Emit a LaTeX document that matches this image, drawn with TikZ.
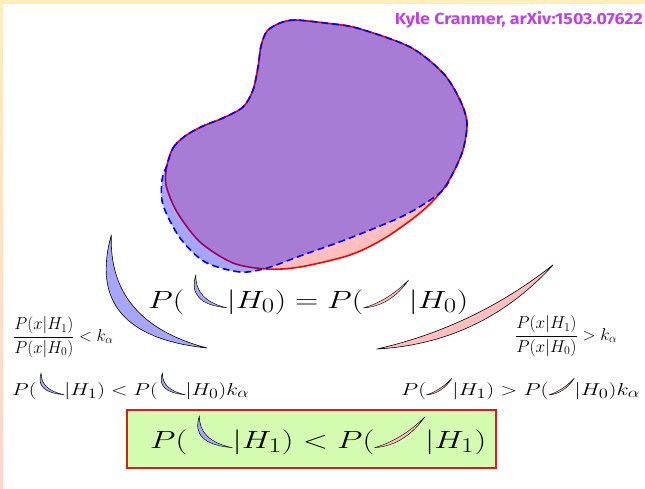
\documentclass[tikz,border=0pt]{standalone}
\usepackage{fontspec}
\usepackage{graphicx}
\newfontfamily\titlefont{Fira Sans}
\definecolor{titlepurple}{RGB}{190,66,232}
\definecolor{boxgreen}{RGB}{212,252,176}
\definecolor{boxred}{RGB}{225,25,25}
\definecolor{bandcream}{RGB}{255,238,184}
\definecolor{bandpink}{RGB}{255,212,208}
\tikzset{
  bluelunestyle/.style={draw=black, fill=blue!35, line width=0.4pt, line join=round},
  pinklunestyle/.style={draw=black, fill=red!25, line width=0.4pt, line join=round},
  formula/.style={inner sep=0pt, anchor=base west},
}
% inline crescents: #1 width, #2 height (pt), #3 baseline as fraction of height from bottom
\newcommand{\bluelune}[3]{\tikz[x=#1pt,y=#2pt,baseline={(0,#3)}]{\draw[bluelunestyle] (0.08,1) .. controls (-0.10,0.41) and (0.207,0.077) .. (1,0) .. controls (0.367,0.153) and (0.06,0.487) .. cycle;}}
\newcommand{\pinklune}[3]{\tikz[x=#1pt,y=#2pt,baseline={(0,#3)}]{\draw[pinklunestyle] (1,1) .. controls (0.731,0.381) and (0.398,0.047) .. (0,0) .. controls (0.367,0.175) and (0.701,0.508) .. cycle;}}
\begin{document}
\begin{tikzpicture}[x=1pt,y=-1pt]
\fill[white] (0,0) rectangle (645,488);
\fill[bandcream] (0,0) rectangle (645,3.5);
\shade[top color=bandcream, bottom color=bandpink] (0,0) rectangle (3,488);

% blob: H1 (red, solid) and H0 (blue, dashed)
\path[fill=red, fill opacity=0.25] plot[smooth cycle] coordinates {(167,165) (173,148) (185,136) (203,126) (223,118) (243,107) (253,90) (258,67) (261,46) (267,31) (280,23) (295,20) (325,23) (357,28) (410,47) (443,73) (460,100) (467,123) (463,150) (453,173) (441,192) (420,213) (385,238) (350,255) (300,267) (267,269) (233,263) (200,242) (177,212) (166,185)};
\draw[red, line width=1.6pt] plot[smooth cycle] coordinates {(167,165) (173,148) (185,136) (203,126) (223,118) (243,107) (253,90) (258,67) (261,46) (267,31) (280,23) (295,20) (325,23) (357,28) (410,47) (443,73) (460,100) (467,123) (463,150) (453,173) (441,192) (420,213) (385,238) (350,255) (300,267) (267,269) (233,263) (200,242) (177,212) (166,185)};
\path[fill=blue, fill opacity=0.35] plot[smooth cycle] coordinates {(167,165) (173,148) (185,136) (203,126) (223,118) (243,107) (253,90) (258,67) (261,46) (267,31) (280,23) (295,20) (325,23) (357,28) (410,47) (443,73) (460,100) (467,123) (463,150) (453,173) (441,192) (405,215) (350,238) (300,256) (267,268) (240,272) (205,262) (180,238) (163,205) (162,180)};
\draw[blue, line width=1.6pt, dash pattern=on 7pt off 4pt] plot[smooth cycle] coordinates {(167,165) (173,148) (185,136) (203,126) (223,118) (243,107) (253,90) (258,67) (261,46) (267,31) (280,23) (295,20) (325,23) (357,28) (410,47) (443,73) (460,100) (467,123) (463,150) (453,173) (441,192) (405,215) (350,238) (300,256) (267,268) (240,272) (205,262) (180,238) (163,205) (162,180)};

% big crescents
\begin{scope}[shift={(103,235)}, xscale=104, yscale=113]
  \draw[bluelunestyle, line width=0.6pt] (0.08,0) .. controls (-0.10,0.59) and (0.207,0.923) .. (1,1) .. controls (0.367,0.847) and (0.06,0.513) .. cycle;
\end{scope}
\begin{scope}[shift={(377,265)}, xscale=176, yscale=84]
  \draw[pinklunestyle, line width=0.6pt] (1,0) .. controls (0.731,0.619) and (0.398,0.953) .. (0,1) .. controls (0.367,0.825) and (0.701,0.492) .. cycle;
\end{scope}

% credit
\node[anchor=base east, inner sep=0pt, text=titlepurple] (credit) at (643,24)
  {\resizebox{248pt}{\height}{\titlefont\bfseries\fontsize{16}{19}\selectfont Kyle Cranmer, arXiv:1503.07622}};

% big formula
\node[formula] (eqsize) at (148,308)
  {\resizebox{320pt}{\height}{\fontsize{29}{34}\selectfont $P(\,\bluelune{26}{33}{0.22}|H_0)=P(\pinklune{35}{28}{0.07}|H_0)$}};

% ratio conditions
\node[inner sep=0pt, anchor=west] (ratioL) at (13,337)
  {\resizebox{100pt}{\height}{\fontsize{16.5}{20}\selectfont $\displaystyle\frac{P(x|H_1)}{P(x|H_0)}<k_\alpha$}};
\node[inner sep=0pt, anchor=west] (ratioR) at (515,336)
  {\resizebox{102pt}{\height}{\fontsize{16.5}{20}\selectfont $\displaystyle\frac{P(x|H_1)}{P(x|H_0)}>k_\alpha$}};

% row formulas
\node[formula] (rowL) at (12,395)
  {\resizebox{237pt}{\height}{\fontsize{19}{23}\selectfont $P(\bluelune{20}{22}{0.25}|H_1)<P(\bluelune{20}{22}{0.25}|H_0)k_\alpha$}};
\node[formula] (rowR) at (401,395)
  {\resizebox{239pt}{\height}{\fontsize{19}{23}\selectfont $P(\pinklune{20}{17}{0.05}|H_1)>P(\pinklune{20}{17}{0.05}|H_0)k_\alpha$}};

% result box
\node[draw=boxred, line width=2pt, fill=boxgreen, minimum width=369pt, minimum height=58pt, inner sep=0pt] (resbox) at (311.5,439) {};
\node[formula] (result) at (150,448)
  {\resizebox{336pt}{\height}{\fontsize{29}{34}\selectfont $P(\,\bluelune{27}{32}{0.28}|H_1)<P(\pinklune{38}{31}{0.32}|H_1)$}};
\end{tikzpicture}
\end{document}
